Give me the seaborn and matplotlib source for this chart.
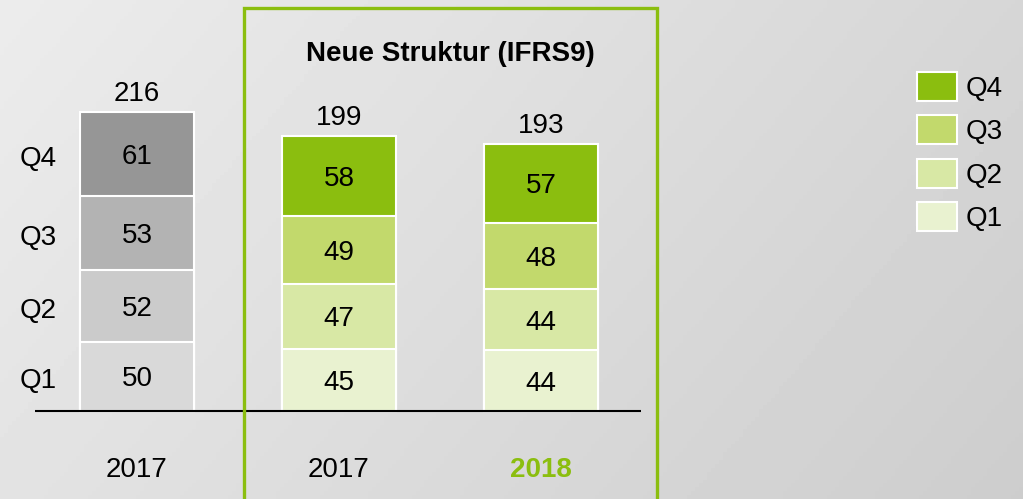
import numpy as np
import pandas as pd
import seaborn as sns
import matplotlib.pyplot as plt
from matplotlib.patches import Patch, Rectangle

sns.set_theme(style="white")
plt.rcParams["font.family"] = ["Liberation Sans", "DejaVu Sans"]
plt.rcParams["text.color"] = "black"

# data
bars = ["2017 alt", "2017 neu", "2018 neu"]
year_labels = ["2017", "2017", "2018"]
quarters = ["Q1", "Q2", "Q3", "Q4"]
q1 = [50, 45, 44]
q2 = [52, 47, 44]
q3 = [53, 49, 48]
q4 = [61, 58, 57]
title = "Neue Struktur (IFRS9)"

gray = {"Q1": "#d9d9d9", "Q2": "#cbcbcb", "Q3": "#b3b3b3", "Q4": "#969696"}
green = {"Q1": "#e9f2d0", "Q2": "#d8e8a5", "Q3": "#c2d96c", "Q4": "#8bbe0f"}
accent = "#8bbe0f"
fs = 20

df = pd.DataFrame({"bar": bars, "Q1": q1, "Q2": q2, "Q3": q3, "Q4": q4})
cum = df[quarters].cumsum(axis=1)
df["total"] = cum["Q4"]

fig = plt.figure(figsize=(10.23, 4.99), dpi=100)

# gradient background
bg = fig.add_axes([0, 0, 1, 1], zorder=0)
xx, yy = np.meshgrid(np.linspace(0, 1, 256), np.linspace(0, 1, 128))
grad = (236 - 22 * xx - 9 * yy) / 255.0
bg.imshow(grad, cmap="gray", vmin=0, vmax=1, aspect="auto", extent=[0, 1, 1, 0])
bg.axis("off")

ax = fig.add_axes([0, 0, 1, 1], zorder=1)
ax.patch.set_alpha(0)

# stacked bars drawn as overlapping cumulative layers
for q in reversed(quarters):
    pal = [gray[q], green[q], green[q]]
    sns.barplot(x=df["bar"], y=cum[q], hue=df["bar"], palette=pal, order=bars,
                width=0.56, saturation=1, edgecolor="white", linewidth=1.5,
                legend=False, ax=ax, zorder=3)

ax.set_xlim(-0.678, 4.386)
ax.set_ylim(-63.6, 296.9)
ax.axis("off")

# segment labels
for i in range(len(bars)):
    base = 0
    for q in quarters:
        v = df.loc[i, q]
        ax.text(i, base + v / 2, str(v), ha="center", va="center_baseline",
                fontsize=fs, zorder=5)
        base += v
    ax.text(i, df.loc[i, "total"] + 3.5, str(df.loc[i, "total"]), ha="center",
            va="bottom", fontsize=fs, zorder=5)

# quarter labels at left
base = 0
for q in quarters:
    v = df.loc[0, q]
    ax.text(-0.49, base + v / 2 - 1.5, q, ha="center", va="center_baseline",
            fontsize=fs)
    base += v

# baseline
ax.hlines(0, -0.505, 2.495, color="black", linewidth=1.5, zorder=4)

# year labels
for i, lab in enumerate(year_labels):
    if i == 2:
        ax.text(i, -40.5, lab, ha="center", va="center_baseline", fontsize=fs,
                color=accent, fontweight="bold")
    else:
        ax.text(i, -40.5, lab, ha="center", va="center_baseline", fontsize=fs)

# green frame for the new structure
ax.add_patch(Rectangle((0.530, -80), 2.574 - 0.530, 291.2 + 80, fill=False,
                       edgecolor=accent, linewidth=2.4, clip_on=False, zorder=6))
ax.text(1.55, 260, title, ha="center", va="center_baseline", fontsize=fs,
        fontweight="bold")

# legend
handles = [Patch(facecolor=green[q], edgecolor="white", linewidth=1.5, label=q)
           for q in reversed(quarters)]
ax.legend(handles=handles, loc="upper left",
          bbox_to_anchor=(917 / 1023, 1 - 72 / 499), bbox_transform=fig.transFigure,
          frameon=False, fontsize=fs, handlelength=1.44, handleheight=1.23,
          labelspacing=0.49, handletextpad=0.3, borderpad=0, borderaxespad=0)

fig.savefig("out.png", dpi=100)
